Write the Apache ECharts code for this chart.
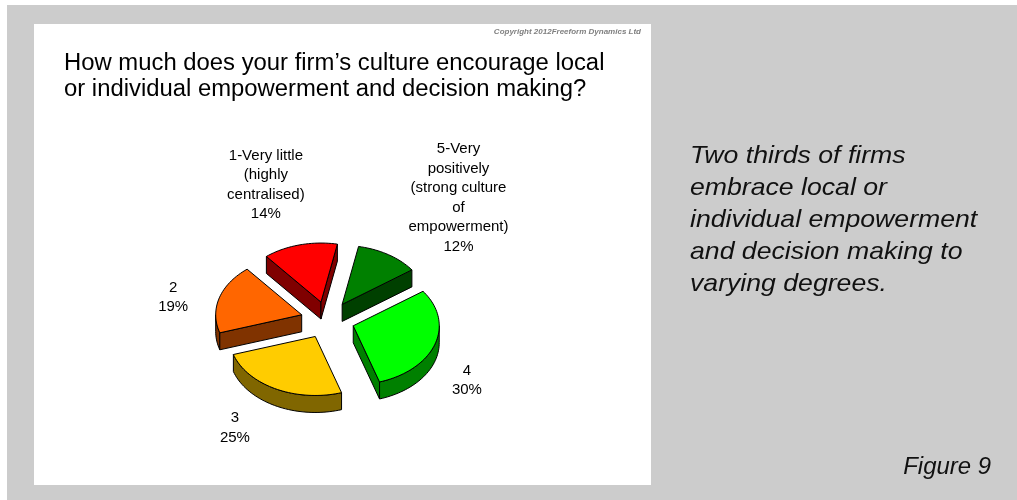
<!DOCTYPE html>
<html>
<head>
<meta charset="utf-8">
<script src="https://cdn.jsdelivr.net/npm/echarts@6/dist/echarts.min.js"></script>
<style>
  html, body { margin: 0; padding: 0; background: #ffffff; }
  #chart { width: 1017px; height: 500px; }
</style>
</head>
<body>
<div id="chart"></div>
<script>
// Survey answers, 1 (very little) to 5 (very positively)
const categories = [
  '1-Very little\n(highly\ncentralised)',
  '2',
  '3',
  '4',
  '5-Very\npositively\n(strong culture\nof\nempowerment)'
];
const shares = [14, 19, 25, 30, 12];
const topColors = ['#FF0000', '#FF6600', '#FFCC00', '#00FF00', '#008000'];
const sideColors = ['#800000', '#803300', '#806600', '#008000', '#004000'];

// 3D pie geometry (ellipse projection of a tilted disc)
const CX = 327.6, CY = 320;     // centre of the top face
const RX = 86, RY = 59;         // ellipse radii of the top face
const DEPTH = 17;               // thickness of the disc
const EXPLODE = 27;             // how far each slice is pulled out
const FIRST_ANGLE = 11;         // degrees clockwise from 12 o'clock where slice 1 ends
const K = RY / RX;

// label block centre, relative to the slice rim point at its mid angle
const labelShift = [[-34, -60], [-46, -1], [-41, 39], [32, 36], [70, -57]];

const total = shares.reduce((a, b) => a + b, 0);
const spans = [];
(function () {
  let end = FIRST_ANGLE;
  shares.forEach(v => {
    const sweep = v / total * 360;
    spans.push([end - sweep, end]);   // [start, end], clockwise from start to end
    end -= sweep;
  });
})();

const rad = d => d * Math.PI / 180;

function point(theta, ox, oy, drop) {
  const t = rad(theta);
  return [CX + ox + RX * Math.sin(t), CY + oy - RY * Math.cos(t) + drop];
}

function arc(a, b, ox, oy, drop) {
  const pts = [];
  const n = Math.max(4, Math.ceil(Math.abs(b - a) / 2));
  for (let j = 0; j <= n; j++) pts.push(point(a + (b - a) * j / n, ox, oy, drop));
  return pts;
}

function renderSlice(params, api) {
  const i = params.dataIndex;
  const [a, b] = spans[i];
  const mid = (a + b) / 2;
  const ox = EXPLODE * Math.sin(rad(mid));
  const oy = -EXPLODE * K * Math.cos(rad(mid));
  const apexTop = [CX + ox, CY + oy];
  const apexBot = [CX + ox, CY + oy + DEPTH];
  const line = { stroke: '#000', lineWidth: 1, lineJoin: 'round' };
  const children = [];

  // outer wall: the part of the rim facing the viewer (90..270 deg)
  for (let k = -1; k <= 1; k++) {
    const lo = Math.max(a, 90 + 360 * k), hi = Math.min(b, 270 + 360 * k);
    if (hi > lo) {
      const topArc = arc(lo, hi, ox, oy, 0);
      const botArc = arc(hi, lo, ox, oy, DEPTH);
      children.push({
        type: 'polygon', z2: 1,
        shape: { points: topArc.concat(botArc) },
        style: Object.assign({ fill: sideColors[i] }, line)
      });
    }
  }
  // cut walls along the two radii
  const sA = Math.sin(rad(a)), sB = Math.sin(rad(b));
  if (sA < 0) {
    const p = point(a, ox, oy, 0), q = point(a, ox, oy, DEPTH);
    children.push({ type: 'polygon', z2: 1, shape: { points: [apexTop, p, q, apexBot] },
      style: Object.assign({ fill: sideColors[i] }, line) });
  }
  if (sB > 0) {
    const p = point(b, ox, oy, 0), q = point(b, ox, oy, DEPTH);
    children.push({ type: 'polygon', z2: 1, shape: { points: [apexTop, p, q, apexBot] },
      style: Object.assign({ fill: sideColors[i] }, line) });
  }
  // top face
  children.push({
    type: 'polygon', z2: 2,
    shape: { points: [apexTop].concat(arc(a, b, ox, oy, 0)) },
    style: Object.assign({ fill: topColors[i] }, line)
  });
  // data label
  const rim = point(mid, ox, oy, 0);
  children.push({
    type: 'text', z2: 5,
    style: {
      text: categories[i] + '\n' + api.value(0) + '%',
      x: rim[0] + labelShift[i][0],
      y: rim[1] + labelShift[i][1],
      align: 'center', verticalAlign: 'middle',
      fontFamily: '"Liberation Sans", Arial, sans-serif', fontSize: 15,
      lineHeight: 19.5, fill: '#000'
    }
  });
  return { type: 'group', children };
}

const chart = echarts.init(document.getElementById('chart'), null, { renderer: 'canvas' });
chart.setOption({
  animation: false,
  backgroundColor: '#ffffff',
  graphic: [
    { type: 'rect', z: -10, shape: { x: 7, y: 5, width: 1010, height: 495 }, style: { fill: '#cccccc' } },
    { type: 'rect', z: -9, shape: { x: 34, y: 24, width: 617, height: 461 }, style: { fill: '#ffffff' } },
    { type: 'text', x: 641, y: 32, style: {
        text: 'Copyright 2012Freeform Dynamics Ltd', align: 'right', verticalAlign: 'middle',
        fontFamily: '"Liberation Sans", Arial, sans-serif', fontSize: 8, fontWeight: 'bold',
        fontStyle: 'italic', fill: '#808080' } },
    { type: 'text', x: 64, y: 51, scaleX: 1.037, style: {
        text: 'How much does your firm\u2019s culture encourage local\nor individual empowerment and decision making?',
        align: 'left', verticalAlign: 'top', lineHeight: 26,
        fontFamily: '"Liberation Sans", Arial, sans-serif', fontSize: 23, fill: '#000' } },
    { type: 'text', x: 690, y: 140, scaleX: 1.11, style: {
        text: 'Two thirds of firms\nembrace local or\nindividual empowerment\nand decision making to\nvarying degrees.',
        align: 'left', verticalAlign: 'top', lineHeight: 32,
        fontFamily: '"Liberation Sans", Arial, sans-serif', fontSize: 24, fontStyle: 'italic', fill: '#111' } },
    { type: 'text', x: 991, y: 468, scaleX: 1.04, style: {
        text: 'Figure 9', align: 'right', verticalAlign: 'middle',
        fontFamily: '"Liberation Sans", Arial, sans-serif', fontSize: 23, fontStyle: 'italic', fill: '#111' } }
  ],
  series: [{
    type: 'custom',
    coordinateSystem: 'none',
    data: shares.map((v, i) => [v, i]),
    renderItem: renderSlice
  }]
});
</script>
</body>
</html>
